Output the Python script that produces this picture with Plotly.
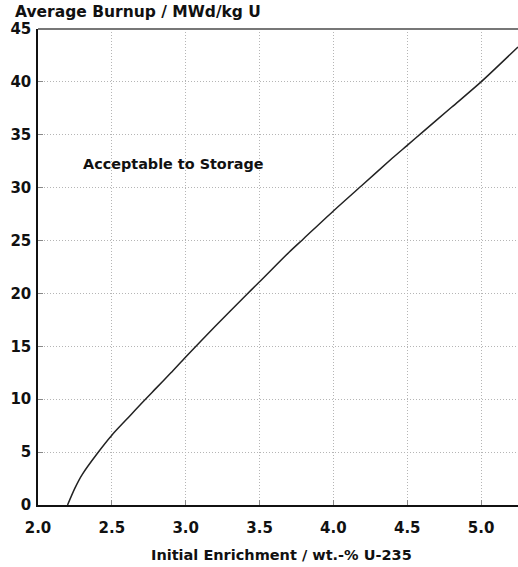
import plotly.graph_objects as go

enrichment = [2.2, 2.25, 2.3, 2.4, 2.5, 2.6, 2.7, 2.8, 2.9, 3.0, 3.2, 3.42, 3.5, 3.7, 3.8,
              4.0, 4.2, 4.4, 4.5, 4.6, 4.8, 5.0, 5.25]
burnup = [0.0, 1.6, 2.9, 4.85, 6.6, 8.1, 9.6, 11.05, 12.5, 14.0, 16.9, 20.0, 21.1, 23.9, 25.2,
          27.8, 30.3, 32.8, 34.0, 35.2, 37.6, 40.0, 43.3]

x_ticks = [2.0, 2.5, 3.0, 3.5, 4.0, 4.5, 5.0]
x_tick_labels = ["2.0", "2.5", "3.0", "3.5", "4.0", "4.5", "5.0"]
y_ticks = [0, 5, 10, 15, 20, 25, 30, 35, 40, 45]

FONT = "DejaVu Sans"
TXT = "#111111"

fig = go.Figure()
fig.add_trace(go.Scatter(
    x=enrichment, y=burnup, mode="lines",
    line=dict(color="#222222", width=1.5, shape="spline", smoothing=0.8),
    showlegend=False, hoverinfo="skip",
))

fig.update_layout(
    width=518, height=567,
    margin=dict(l=38, r=0, t=29, b=62),
    paper_bgcolor="white", plot_bgcolor="white",
    font=dict(family=FONT, color=TXT),
    xaxis=dict(
        range=[2.0, 5.25], tickvals=x_ticks, ticktext=x_tick_labels,
        automargin=False,
        showgrid=True, gridcolor="#b5b5b5", griddash="1px,2px", gridwidth=1,
        showline=True, linecolor="#111111", linewidth=1.5,
        ticks="inside", ticklen=5, tickcolor="#888888",
        tickfont=dict(family=FONT, size=15, color=TXT, weight="bold"),
        ticklabelstandoff=8,
        zeroline=False,
    ),
    yaxis=dict(
        range=[0, 45], tickvals=y_ticks,
        automargin=False,
        showgrid=True, gridcolor="#b5b5b5", griddash="1px,2px", gridwidth=1,
        showline=True, linecolor="#111111", linewidth=1.5,
        ticks="inside", ticklen=5, tickcolor="#888888",
        tickfont=dict(family=FONT, size=15, color=TXT, weight="bold"),
        ticklabelstandoff=2,
        zeroline=False,
    ),
    shapes=[dict(type="line", xref="paper", yref="paper", x0=0, x1=1, y0=1, y1=1,
                 line=dict(color="#777777", width=2))],
    annotations=[
        dict(text="Average Burnup / MWd/kg U", xref="paper", yref="paper",
             x=-0.052, y=1.035, xanchor="left", yanchor="middle", showarrow=False,
             font=dict(family=FONT, size=15.5, color=TXT, weight="bold")),
        dict(text="Initial Enrichment / wt.-% U-235", xref="paper", yref="paper",
             x=0.508, y=-0.105, xanchor="center", yanchor="middle", showarrow=False,
             font=dict(family=FONT, size=14.5, color=TXT, weight="bold")),
        dict(text="Acceptable to Storage", xref="x", yref="y",
             x=2.29, y=32.2, xanchor="left", yanchor="middle", showarrow=False,
             font=dict(family=FONT, size=14.4, color=TXT, weight="bold")),
    ],
)

fig.write_html(
    "out.html",
    config={"displayModeBar": False},
    post_script="document.body.style.margin='0';document.body.style.overflow='hidden';",
)
